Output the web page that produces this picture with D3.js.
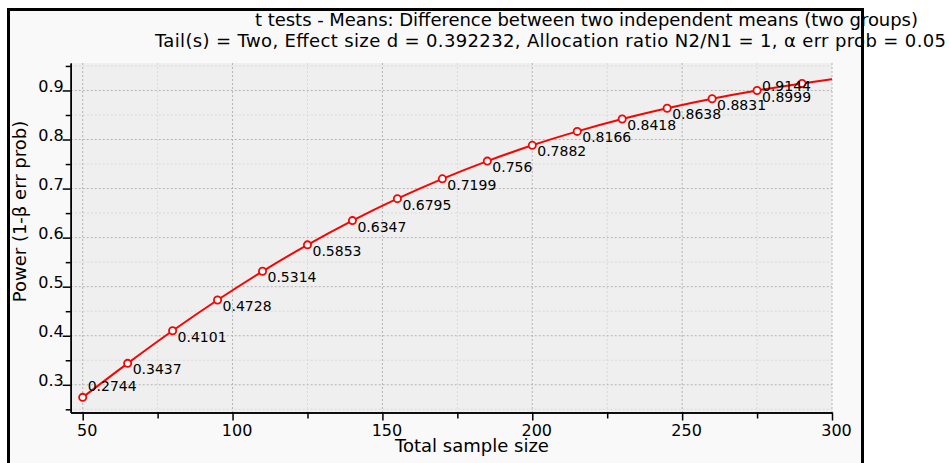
<!DOCTYPE html>
<html>
<head>
<meta charset="utf-8">
<script src="https://cdn.jsdelivr.net/npm/d3@7"></script>
<style>
  html, body { margin: 0; padding: 0; background: #ffffff; }
  svg { display: block; }
  text { font-family: "DejaVu Sans", sans-serif; fill: #000; }
</style>
</head>
<body>
<svg id="chart" width="949" height="463"></svg>
<script>
// Power curve: t test, difference between two independent means
const sampleSizes = [50, 65, 80, 95, 110, 125, 140, 155, 170, 185, 200, 215, 230, 245, 260, 275, 290];
const powerValues = [0.2744, 0.3437, 0.4101, 0.4728, 0.5314, 0.5853, 0.6347, 0.6795, 0.7199,
                     0.756, 0.7882, 0.8166, 0.8418, 0.8638, 0.8831, 0.8999, 0.9144];
// The curve continues to the right edge of the axis
const curveEndN = 300;
const curveEndPower = 0.923;

const xMajorTicks = [50, 100, 150, 200, 250, 300];
const xMinorTicks = [75, 125, 175, 225, 275];
const yMajorTicks = [0.3, 0.4, 0.5, 0.6, 0.7, 0.8, 0.9];
const yMinorTicks = [0.25, 0.35, 0.45, 0.55, 0.65, 0.75, 0.85, 0.95];

const titleLine1 = "t tests - Means: Difference between two independent means (two groups)";
const titleLine2 = "Tail(s) = Two, Effect size d = 0.392232, Allocation ratio N2/N1 = 1, α err prob = 0.05";
const xTitle = "Total sample size";
const yTitle = "Power (1-β err prob)";

const svg = d3.select("#chart");

const plotLeft = 70.7, plotRight = 832, plotTop = 63, plotBottom = 412.5;
const x = d3.scaleLinear().domain([46, 300]).range([plotLeft, plotRight]);
const y = d3.scaleLinear().domain([0.2435, 0.956]).range([plotBottom, plotTop]);

// outer frame
svg.append("rect")
  .attr("x", 8.5).attr("y", 9.5).attr("width", 854).attr("height", 520)
  .attr("fill", "#f9f9f9").attr("stroke", "#000").attr("stroke-width", 3);

// plot background
svg.append("rect")
  .attr("x", plotLeft).attr("y", plotTop)
  .attr("width", plotRight - plotLeft).attr("height", plotBottom - plotTop)
  .attr("fill", "#efefef");

// grid
const grid = svg.append("g");
grid.selectAll(".vmin").data(xMinorTicks).join("line")
  .attr("x1", d => x(d)).attr("x2", d => x(d))
  .attr("y1", plotTop).attr("y2", plotBottom)
  .attr("stroke", "#dadada").attr("stroke-dasharray", "2,2");
grid.selectAll(".hmin").data(yMinorTicks).join("line")
  .attr("x1", plotLeft).attr("x2", plotRight)
  .attr("y1", d => y(d)).attr("y2", d => y(d))
  .attr("stroke", "#dadada").attr("stroke-dasharray", "2,2");
grid.selectAll(".vmaj").data(xMajorTicks).join("line")
  .attr("x1", d => x(d)).attr("x2", d => x(d))
  .attr("y1", plotTop).attr("y2", plotBottom)
  .attr("stroke", "#b4b4b4").attr("stroke-dasharray", "2,2");
grid.selectAll(".hmaj").data(yMajorTicks).join("line")
  .attr("x1", plotLeft).attr("x2", plotRight)
  .attr("y1", d => y(d)).attr("y2", d => y(d))
  .attr("stroke", "#b4b4b4").attr("stroke-dasharray", "2,2");

// axes
const axisColor = "#000";
const xAxisMinor = d3.axisBottom(x).tickValues(xMinorTicks).tickSize(6).tickSizeOuter(0).tickFormat("");
const xAxisMajor = d3.axisBottom(x).tickValues(xMajorTicks).tickSize(8).tickSizeOuter(0).tickPadding(3)
  .tickFormat(d3.format("d"));
const yAxisMinor = d3.axisLeft(y).tickValues(yMinorTicks).tickSize(5).tickSizeOuter(0).tickFormat("");
const yAxisMajor = d3.axisLeft(y).tickValues(yMajorTicks).tickSize(8).tickSizeOuter(0).tickPadding(0)
  .tickFormat(d3.format(".1f"));

function styleAxis(g) {
  g.attr("font-family", null).attr("font-size", null);
  g.selectAll("line").attr("stroke", axisColor).attr("stroke-width", 1.5);
  g.select(".domain").attr("stroke", axisColor).attr("stroke-width", 1.5);
  g.selectAll("text").style("font-size", "16px").attr("fill", "#000");
}

svg.append("g").attr("transform", `translate(0,${plotBottom})`).call(xAxisMinor).call(styleAxis);
const gx = svg.append("g").attr("transform", `translate(0,${plotBottom})`).call(xAxisMajor).call(styleAxis);
gx.selectAll("text").attr("dx", 4).attr("dy", "0.78em");

svg.append("g").attr("transform", `translate(${plotLeft},0)`).call(yAxisMinor).call(styleAxis);
const gy = svg.append("g").attr("transform", `translate(${plotLeft},0)`).call(yAxisMajor).call(styleAxis);
gy.selectAll("text").attr("dy", 1).attr("x", -7);

// power curve
const curvePoints = sampleSizes.map((n, i) => [n, powerValues[i]]).concat([[curveEndN, curveEndPower]]);
const line = d3.line().x(d => x(d[0])).y(d => y(d[1])).curve(d3.curveMonotoneX);
svg.append("path")
  .datum(curvePoints)
  .attr("d", line)
  .attr("fill", "none").attr("stroke", "#ff0000").attr("stroke-width", 2);

// markers
svg.selectAll(".marker").data(sampleSizes).join("circle")
  .attr("cx", d => x(d))
  .attr("cy", (d, i) => y(powerValues[i]))
  .attr("r", 3.6)
  .attr("fill", "#ffffff").attr("stroke", "#ff0000").attr("stroke-width", 1.8);

// value labels
const labels = svg.append("g");
sampleSizes.forEach((n, i) => {
  const px = x(n), py = y(powerValues[i]);
  const t = labels.append("text")
    .style("font-size", "14px")
    .text(String(powerValues[i]));
  const w = t.node().getComputedTextLength();
  let tx = px + 5, ty = py + 11;
  if (ty > plotBottom - 6) ty = py - 6;          // keep inside the bottom edge
  if (tx + w > plotRight - 18) { tx = px + 9 - w; ty = py + 8; } // keep inside the right edge
  t.attr("x", tx).attr("y", ty);
});

// titles
svg.append("text").attr("x", 255).attr("y", 26)
  .attr("textLength", 663).attr("lengthAdjust", "spacing")
  .style("font-size", "18px").text(titleLine1);
svg.append("text").attr("x", 155).attr("y", 47)
  .attr("textLength", 791).attr("lengthAdjust", "spacing")
  .style("font-size", "18px").text(titleLine2);

svg.append("text").attr("x", 472).attr("y", 452).attr("text-anchor", "middle")
  .style("font-size", "18px").text(xTitle);
svg.append("text").attr("transform", "translate(25.5,211.5) rotate(-90)")
  .attr("text-anchor", "middle").style("font-size", "18px").text(yTitle);
</script>
</body>
</html>
